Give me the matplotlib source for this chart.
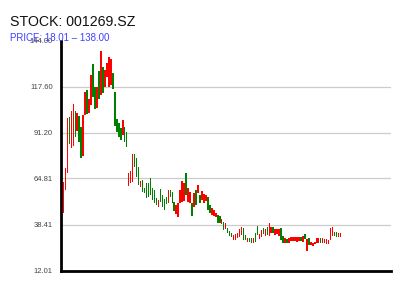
import matplotlib
matplotlib.use('Agg')
import matplotlib.pyplot as plt
import numpy as np

plt.rcParams['font.family'] = ['Liberation Sans', 'DejaVu Sans']

# daily high / low prices and candle direction (r = up, g = down)
highs = [
    62.97, 71.01, 99.53, 100.10, 103.55, 107.56, 103.72, 102.57, 100.68, 94.36,
    101.25, 114.62, 115.60, 110.43, 124.38, 130.52, 117.49, 117.49, 126.50, 138.00,
    128.97, 127.08, 131.27, 134.71, 133.39, 125.53, 114.62, 98.96, 96.66, 93.79,
    98.38, 94.36, 91.67, 67.97, 69.29, 78.87, 78.87, 76.40, 71.24, 63.55,
    63.95, 59.19, 62.05, 62.40, 64.92, 59.19, 58.21, 53.45, 52.47, 58.61,
    55.34, 52.87, 54.37, 58.21, 58.21, 57.23, 51.49, 49.60, 50.58, 58.21,
    63.55, 62.40, 67.79, 59.19, 57.23, 50.58, 56.32, 58.21, 61.08, 55.34,
    57.66, 55.91, 55.34, 54.37, 49.60, 47.70, 46.73, 45.18, 43.86, 43.29,
    41.39, 40.02, 39.10, 36.23, 34.68, 33.35, 32.39, 32.96, 33.70, 35.66,
    36.80, 36.23, 32.39, 30.49, 30.66, 30.49, 30.66, 33.35, 37.55, 32.96,
    35.25, 36.23, 35.66, 36.80, 39.44, 37.15, 36.80, 35.66, 35.83, 35.83,
    36.23, 31.81, 30.49, 29.92, 30.49, 31.06, 31.06, 31.41, 31.06, 31.06,
    31.41, 31.81, 32.96, 29.92, 30.49, 28.54, 27.96, 28.54, 30.83, 30.83,
    30.49, 30.49, 30.08, 29.92, 29.51, 36.23, 37.15, 34.28, 33.93, 33.70, 33.70,
]
lows = [
    44.84, 58.21, 68.14, 84.61, 82.48, 83.46, 88.80, 92.24, 85.93, 76.75,
    77.72, 101.25, 101.83, 102.57, 107.01, 111.58, 104.69, 105.27, 110.43, 112.73,
    113.88, 117.49, 123.23, 117.49, 118.47, 116.00, 94.94, 91.67, 88.80, 86.90,
    89.77, 85.93, 83.06, 60.51, 62.40, 62.97, 71.24, 65.84, 61.08, 60.10,
    57.23, 56.32, 53.45, 54.37, 55.34, 52.47, 50.58, 49.60, 48.63, 51.49,
    48.63, 46.73, 50.17, 50.58, 54.02, 50.58, 46.33, 44.43, 42.89, 50.58,
    51.49, 52.07, 55.34, 51.49, 50.58, 43.29, 48.63, 49.60, 56.32, 50.58,
    52.41, 50.92, 51.89, 46.73, 44.84, 43.86, 43.29, 42.54, 39.44, 39.27,
    38.70, 35.25, 35.66, 33.70, 31.81, 31.41, 29.51, 29.51, 30.49, 31.41,
    32.39, 29.51, 29.51, 28.54, 28.65, 27.96, 28.08, 28.54, 32.39, 30.08,
    31.06, 32.96, 31.81, 32.39, 31.81, 33.35, 33.70, 32.39, 32.96, 31.81,
    29.51, 27.96, 27.96, 27.96, 27.96, 28.94, 28.94, 29.11, 28.54, 28.94,
    29.11, 28.54, 29.92, 23.37, 26.64, 26.64, 26.06, 27.04, 27.62, 27.96,
    27.96, 27.62, 27.62, 27.22, 27.22, 29.51, 31.81, 31.81, 31.41, 31.41, 31.41,
]
direction = ("rrrgrrgrgg" "rrgrrggrgr" "grrrrggggg" "rggrrrgggr" "ggggggggrg"
             "gggrgggrrr" "rrgrrgrgrg" "rrrggrrrgg" "rgrgggrrrr" "rggrggrggr"
             "rgrgrrgrrr" "ggrgrrrrrr" "grgrgrrrrr" "grrrrrrggrr")

yticks = [12.01, 38.41, 64.81, 91.20, 117.60, 144.00]
title = 'STOCK: 001269.SZ'
subtitle = 'PRICE: 18.01 \u2013 138.00'

highs = np.array(highs)
lows = np.array(lows)
x = np.arange(len(highs))
colors = ['#ff0000' if d == 'r' else '#008000' for d in direction]

fig = plt.figure(figsize=(4, 3), dpi=100)
ax = fig.add_axes([0.1525, 0.0983, 0.825, 0.7667])

for t in yticks[1:-1]:
    ax.axhline(t, color='#cccccc', lw=0.9, zorder=0)

ax.bar(x, highs - lows, bottom=lows, width=0.75, color=colors, linewidth=0)

ax.set_xlim(-1.2, 165.5)
ax.set_ylim(yticks[0], yticks[-1])
ax.set_yticks(yticks)
ax.set_yticklabels(['%.2f' % t for t in yticks])
ax.tick_params(axis='y', length=0, pad=6, labelsize=5.5, labelcolor='#444444')
ax.set_xticks([])

for s in ['top', 'right']:
    ax.spines[s].set_visible(False)
for s in ['left', 'bottom']:
    ax.spines[s].set_linewidth(2)
    ax.spines[s].set_color('black')

fig.text(0.025, 0.914, title, fontsize=10.2, color='#111111', va='baseline')
fig.text(0.025, 0.864, subtitle, fontsize=7, color='#4040ff', va='baseline')

fig.savefig('out.png', dpi=100)
